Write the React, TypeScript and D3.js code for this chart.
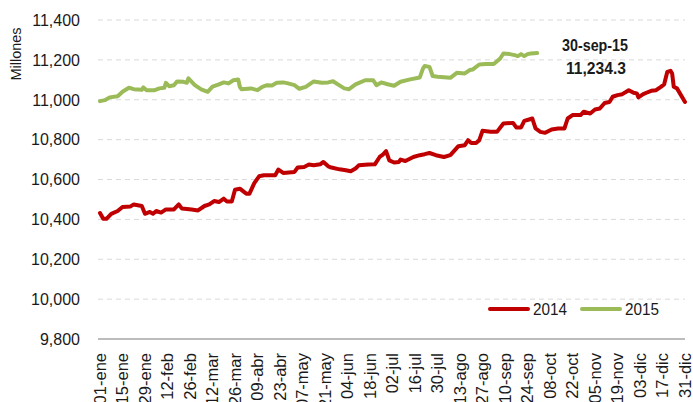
import React, { useRef, useEffect } from 'react';
import * as d3 from 'd3';

// Reservas (millones)
const days2014 = [
  '01-01', '01-03', '01-05', '01-08', '01-12', '01-15', '01-20', '01-22', '01-27', '01-29',
  '02-01', '02-03', '02-05', '02-08', '02-11', '02-16', '02-19', '02-21', '02-27',
  '03-03', '03-07', '03-10', '03-13', '03-16', '03-19', '03-21', '03-24', '03-26', '03-29',
  '04-02', '04-04', '04-07', '04-10', '04-13', '04-20', '04-22', '04-25',
  '05-02', '05-04', '05-08', '05-11', '05-14', '05-18', '05-20', '05-23', '05-25', '05-30',
  '06-03', '06-06', '06-09', '06-11', '06-17', '06-21', '06-24', '06-26', '06-28', '06-30',
  '07-03', '07-06', '07-07', '07-10', '07-15', '07-19', '07-22', '07-25', '07-29',
  '08-03', '08-07', '08-12', '08-16', '08-18', '08-20', '08-23', '08-25', '08-27',
  '09-01', '09-05', '09-09', '09-15', '09-17', '09-20', '09-22', '09-25', '09-27', '09-29',
  '10-02', '10-05', '10-09', '10-13', '10-17', '10-19', '10-22', '10-27', '10-29',
  '11-02', '11-05', '11-08', '11-11', '11-14', '11-16', '11-19', '11-22', '11-26', '11-29',
  '12-01', '12-02', '12-05', '12-07', '12-10', '12-13', '12-16', '12-18', '12-20', '12-22',
  '12-23', '12-24', '12-26', '12-31'
];
const values2014 = [
  10432, 10403, 10403, 10428, 10442, 10462, 10465, 10475, 10467, 10428,
  10437, 10428, 10442, 10434, 10450, 10450, 10475, 10454, 10449,
  10445, 10467, 10475, 10492, 10487, 10504, 10490, 10490, 10549, 10554,
  10529, 10529, 10582, 10616, 10621, 10621, 10650, 10633,
  10638, 10660, 10663, 10675, 10671, 10676, 10688, 10666, 10660, 10651,
  10646, 10641, 10655, 10671, 10675, 10676, 10713, 10725, 10742, 10696,
  10685, 10688, 10700, 10693, 10713, 10722, 10727, 10733, 10722,
  10713, 10722, 10767, 10772, 10797, 10783, 10783, 10797, 10844,
  10839, 10839, 10881, 10884, 10861, 10861, 10894, 10901, 10906, 10856,
  10839, 10834, 10851, 10856, 10856, 10906, 10923, 10923, 10940,
  10931, 10951, 10956, 10984, 10989, 11015, 11023, 11028, 11048, 11035,
  11032, 11012, 11028, 11035, 11045, 11048, 11065, 11077, 11140, 11145,
  11132, 11065, 11057, 10989
];

const days2015 = [
  '01-01', '01-04', '01-07', '01-12', '01-15', '01-19', '01-22', '01-27', '01-28', '01-30',
  '02-04', '02-07', '02-10', '02-11', '02-13', '02-16', '02-18', '02-22', '02-24', '02-25',
  '03-01', '03-05', '03-09', '03-12', '03-16', '03-19', '03-22', '03-25', '03-28', '03-29', '03-30',
  '04-05', '04-09', '04-12', '04-15', '04-18', '04-21', '04-25', '04-28',
  '05-02', '05-05', '05-09', '05-14', '05-19', '05-23', '05-26', '05-29',
  '06-02', '06-05', '06-09', '06-15', '06-20', '06-22', '06-25', '06-29',
  '07-03', '07-07', '07-13', '07-19', '07-21', '07-22', '07-25', '07-27', '07-30',
  '08-07', '08-11', '08-16', '08-19', '08-21', '08-25', '08-29',
  '09-03', '09-07', '09-09', '09-13', '09-16', '09-18', '09-20', '09-22', '09-24', '09-26', '09-30'
];
const values2015 = [
  10993, 10998, 11012, 11018, 11040, 11060, 11053, 11050, 11062, 11048,
  11048, 11057, 11060, 11085, 11068, 11073, 11092, 11090, 11085, 11107,
  11073, 11052, 11040, 11066, 11077, 11087, 11082, 11098, 11102, 11065, 11053,
  11057, 11048, 11065, 11073, 11072, 11085, 11087, 11082,
  11073, 11055, 11065, 11092, 11085, 11087, 11093, 11077,
  11057, 11053, 11077, 11098, 11098, 11073, 11087, 11078,
  11070, 11090, 11102, 11112, 11157, 11169, 11165, 11119, 11115,
  11110, 11135, 11132, 11149, 11152, 11177, 11179,
  11179, 11207, 11232, 11229, 11224, 11219, 11229, 11219, 11229, 11232, 11234.3
];

const yTicks = [9800, 10000, 10200, 10400, 10600, 10800, 11000, 11200, 11400];
const xTickLabels = [
  '01-ene', '15-ene', '29-ene', '12-feb', '26-feb', '12-mar', '26-mar', '09-abr', '23-abr',
  '07-may', '21-may', '04-jun', '18-jun', '02-jul', '16-jul', '30-jul', '13-ago', '27-ago',
  '10-sep', '24-sep', '08-oct', '22-oct', '05-nov', '19-nov', '03-dic', '17-dic', '31-dic'
];
const seriesNames = ['2014', '2015'];
const seriesColors = ['#C00000', '#9BBB59'];

const App = () => {
  const svgRef = useRef<SVGSVGElement>(null);
  const width = 693;
  const height = 402;

  useEffect(() => {
    const svg = d3.select(svgRef.current);
    svg.selectAll('*').remove();

    const font = '"Liberation Sans", Arial, sans-serif';
    const parse = d3.timeParse('%Y-%m-%d');
    const toDate = (md: string) => parse('2014-' + md) as Date;
    const start = toDate('01-01');

    const xScale = d3.scaleTime()
      .domain([start, toDate('12-31')])
      .range([100, 685]);

    const yScale = d3.scaleLinear()
      .domain([9800, 11400])
      .range([339, 20]);

    // gridlines
    svg.append('g')
      .selectAll('line')
      .data(yTicks.filter(t => t > 9800))
      .join('line')
      .attr('x1', 98)
      .attr('x2', 685)
      .attr('y1', d => yScale(d))
      .attr('y2', d => yScale(d))
      .attr('stroke', '#d9d9d9')
      .attr('stroke-width', 1)
      .attr('stroke-dasharray', '5,4');

    // y labels
    svg.append('g')
      .selectAll('text')
      .data(yTicks)
      .join('text')
      .attr('x', 80)
      .attr('y', d => yScale(d))
      .attr('dy', '0.36em')
      .attr('text-anchor', 'end')
      .attr('font-family', font)
      .attr('font-size', 16)
      .attr('fill', '#1a1a1a')
      .text(d => d3.format(',')(d));

    // y axis title
    svg.append('text')
      .attr('transform', 'translate(21,54) rotate(-90)')
      .attr('text-anchor', 'middle')
      .attr('font-family', font)
      .attr('font-size', 14.5)
      .attr('fill', '#1a1a1a')
      .text('Millones');

    // x axis line
    svg.append('line')
      .attr('x1', 98)
      .attr('x2', 685)
      .attr('y1', yScale(9800))
      .attr('y2', yScale(9800))
      .attr('stroke', '#a6a6a6')
      .attr('stroke-width', 1.5);

    // x labels every 14 days
    svg.append('g')
      .selectAll('text')
      .data(xTickLabels)
      .join('text')
      .attr('transform', (d, i) => `translate(${xScale(d3.timeDay.offset(start, i * 14))},353) rotate(-90)`)
      .attr('dy', '0.36em')
      .attr('text-anchor', 'end')
      .attr('font-family', font)
      .attr('font-size', 16.5)
      .attr('fill', '#1a1a1a')
      .text(d => d);

    const line = d3.line<[Date, number]>()
      .x(d => xScale(d[0]))
      .y(d => yScale(d[1]));

    const series: [Date, number][][] = [
      days2014.map((d, i) => [toDate(d), values2014[i]]),
      days2015.map((d, i) => [toDate(d), values2015[i]])
    ];

    svg.append('g')
      .selectAll('path')
      .data(series)
      .join('path')
      .attr('d', d => line(d))
      .attr('fill', 'none')
      .attr('stroke', (d, i) => seriesColors[i])
      .attr('stroke-width', 4)
      .attr('stroke-linejoin', 'round')
      .attr('stroke-linecap', 'round');

    // annotation for last 2015 value
    const lastIdx = values2015.length - 1;
    const ann = svg.append('g')
      .attr('font-family', font)
      .attr('font-weight', 'bold')
      .attr('font-size', 16.5)
      .attr('fill', '#1a1a1a')
      .attr('text-anchor', 'middle');
    ann.append('text')
      .attr('x', 595)
      .attr('y', 51)
      .attr('textLength', 66)
      .attr('lengthAdjust', 'spacingAndGlyphs')
      .text('30-sep-15');
    ann.append('text')
      .attr('x', 596)
      .attr('y', 74)
      .attr('textLength', 60)
      .attr('lengthAdjust', 'spacingAndGlyphs')
      .text(d3.format(',.1f')(values2015[lastIdx]));

    // legend
    const legend = svg.append('g');
    const legendX = [490, 582];
    seriesNames.forEach((name, i) => {
      legend.append('line')
        .attr('x1', legendX[i])
        .attr('x2', legendX[i] + 38)
        .attr('y1', 309)
        .attr('y2', 309)
        .attr('stroke', seriesColors[i])
        .attr('stroke-width', 4)
        .attr('stroke-linecap', 'round');
      legend.append('text')
        .attr('x', legendX[i] + 43)
        .attr('y', 315)
        .attr('font-family', font)
        .attr('font-size', 16.5)
        .attr('fill', '#1a1a1a')
        .attr('textLength', 34)
        .attr('lengthAdjust', 'spacingAndGlyphs')
        .text(name);
    });
  }, []);

  return (
    <svg
      ref={svgRef}
      width={width}
      height={height}
      style={{ position: 'absolute', left: 0, top: 0, background: '#fff' }}
    />
  );
};

export default App;
